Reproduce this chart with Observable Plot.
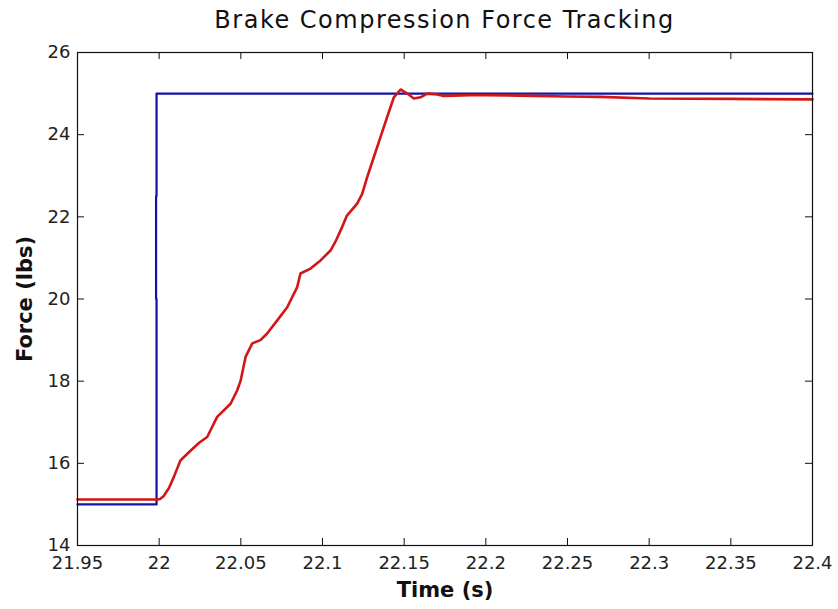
<!DOCTYPE html>
<html><head><meta charset="utf-8">
<script src="https://cdn.jsdelivr.net/npm/d3@7"></script>
<script src="https://cdn.jsdelivr.net/npm/@observablehq/plot@0.6"></script>
<style>
body{margin:0;background:#fff;width:838px;height:609px;overflow:hidden;}
#title{position:absolute;left:77px;top:0;width:735px;height:40px;line-height:40px;text-align:center;
font-family:"DejaVu Sans";font-size:24px;letter-spacing:1.5px;color:#111;}
#chart{position:absolute;left:0;top:40px;}
</style></head><body>
<div id="title">Brake Compression Force Tracking</div>
<div id="chart"></div>
<script>
const xTicks = [21.95, 22, 22.05, 22.1, 22.15, 22.2, 22.25, 22.3, 22.35, 22.4];
const yTicks = [14, 16, 18, 20, 22, 24, 26];

// Reference (commanded) force
const refTime  = [21.95, 21.9984, 21.9984, 21.9981, 21.9981, 21.9984, 21.9984, 22.4];
const refForce = [15, 15, 20, 20, 22.5, 22.5, 25, 25];

// Measured force
const measTime = [21.95, 21.999, 22.0005, 22.0027, 22.006, 22.009, 22.013, 22.019, 22.0245, 22.0294,
  22.0355, 22.0437, 22.0478, 22.0498, 22.0529, 22.057, 22.062, 22.0661, 22.0723, 22.0784,
  22.0845, 22.0865, 22.0927, 22.0988, 22.1049, 22.108, 22.112, 22.115, 22.1212, 22.1243,
  22.1274, 22.1314, 22.1355, 22.1396, 22.1437, 22.1478, 22.1519, 22.1559, 22.16, 22.1641,
  22.1702, 22.1743, 22.18, 22.19, 22.2, 22.22, 22.25, 22.27, 22.3, 22.35, 22.4];
const measForce = [15.12, 15.12, 15.13, 15.2, 15.4, 15.67, 16.07, 16.3, 16.5, 16.64,
  17.13, 17.45, 17.78, 18.0, 18.59, 18.92, 19.0, 19.16, 19.48, 19.8,
  20.29, 20.62, 20.74, 20.94, 21.18, 21.4, 21.75, 22.03, 22.32, 22.56,
  22.97, 23.45, 23.94, 24.43, 24.91, 25.1, 25.0, 24.88, 24.91, 25.0,
  24.98, 24.94, 24.95, 24.96, 24.96, 24.95, 24.93, 24.92, 24.88, 24.87, 24.86];

const ref = refTime.map((t, i) => ({t, v: refForce[i]}));
const meas = measTime.map((t, i) => ({t, v: measForce[i]}));

const W = 838, H = 569, mt = 12, mb = 64, ml = 77, mr = 26;
const ph = H - mt - mb, pw = W - ml - mr, tk = 7;

const chart = Plot.plot({
  width: W, height: H,
  marginTop: mt, marginBottom: mb, marginLeft: ml, marginRight: mr,
  style: {fontFamily: "DejaVu Sans", background: "white", color: "#111", overflow: "visible"},
  x: {domain: [21.95, 22.4]},
  y: {domain: [14, 26]},
  marks: [
    Plot.line(ref, {x: "t", y: "v", stroke: "#1212a8", strokeWidth: 2.2}),
    Plot.line(meas, {x: "t", y: "v", stroke: "#d21616", strokeWidth: 2.6}),
    Plot.ruleX(xTicks, {x: d => d, insetTop: ph - tk, stroke: "#111"}),
    Plot.ruleX(xTicks, {x: d => d, insetBottom: ph - tk, stroke: "#111"}),
    Plot.ruleY(yTicks, {y: d => d, insetRight: pw - tk, stroke: "#111"}),
    Plot.ruleY(yTicks, {y: d => d, insetLeft: pw - tk, stroke: "#111"}),
    Plot.frame({stroke: "#111", strokeWidth: 1.2}),
    Plot.axisX({ticks: xTicks, tickSize: 0, tickPadding: 11, fontSize: 18, tickFormat: d => String(d), label: null, fill: "#222"}),
    Plot.axisY({ticks: yTicks, tickSize: 0, tickPadding: 7, fontSize: 18, tickFormat: d => String(d), label: null, fill: "#222"}),
    Plot.text(["Time (s)"], {frameAnchor: "bottom", dy: 45, text: d => d, fontSize: 21, fontWeight: "bold", textAnchor: "middle", lineAnchor: "middle", fill: "#111"}),
    Plot.text(["Force (lbs)"], {frameAnchor: "left", dx: -52, text: d => d, fontSize: 21, fontWeight: "bold", rotate: -90, textAnchor: "middle", lineAnchor: "middle", fill: "#111"})
  ]
});
document.getElementById("chart").appendChild(chart);
</script></body></html>
